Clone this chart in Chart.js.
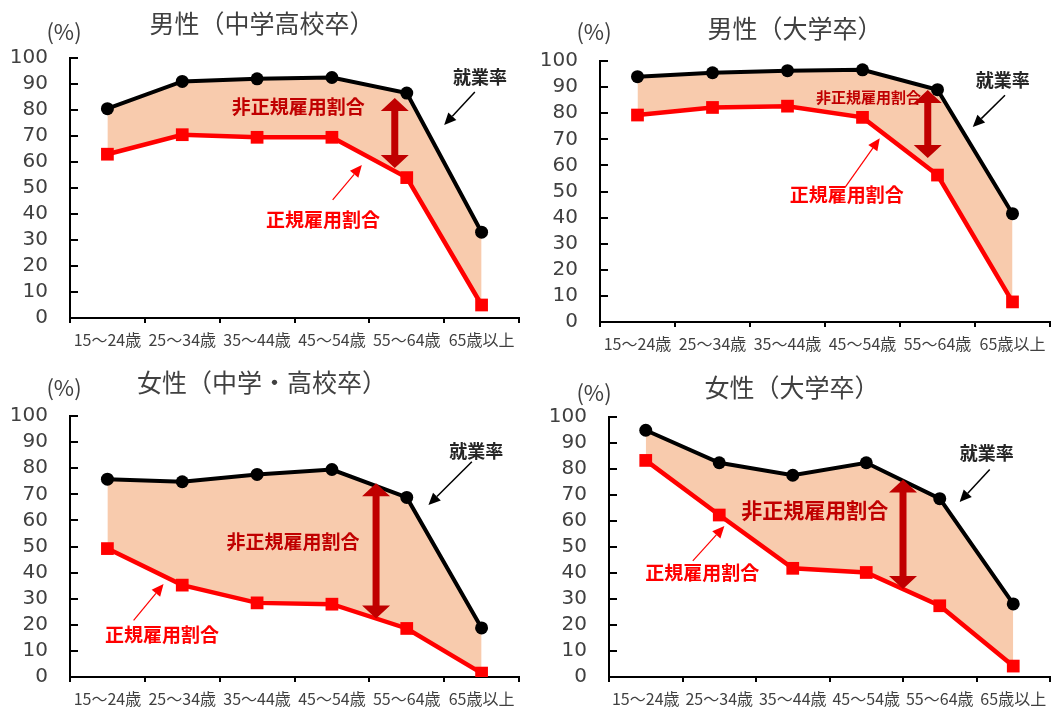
<!DOCTYPE html>
<html>
<head>
<meta charset="utf-8">
<script src="https://cdn.jsdelivr.net/npm/chart.js@4"></script>
<style>
  html, body { margin: 0; padding: 0; background: #fff; }
  #wrap { position: relative; width: 1059px; height: 711px; overflow: hidden; }
  .panel { position: absolute; }
</style>
</head>
<body>
<div id="wrap">
  <div class="panel" style="left:0px;top:0px"><canvas id="c1" width="530" height="356"></canvas></div>
  <div class="panel" style="left:530px;top:0px"><canvas id="c2" width="529" height="356"></canvas></div>
  <div class="panel" style="left:0px;top:356px"><canvas id="c3" width="530" height="355"></canvas></div>
  <div class="panel" style="left:530px;top:356px"><canvas id="c4" width="529" height="355"></canvas></div>
</div>
<script>
// ---- data ----
const categories = ['15～24歳', '25～34歳', '35～44歳', '45～54歳', '55～64歳', '65歳以上'];
const yTicks = [0, 10, 20, 30, 40, 50, 60, 70, 80, 90, 100];

const titles = ['男性（中学高校卒）', '男性（大学卒）', '女性（中学・高校卒）', '女性（大学卒）'];
const unitLabel = '(%)';
const lblEmployment = '就業率';
const lblNonRegular = '非正規雇用割合';
const lblRegular = '正規雇用割合';

const maleHsEmployment   = [80.5, 91.0, 92.0, 92.5, 86.5, 33.0];
const maleHsRegular      = [63.0, 70.5, 69.5, 69.5, 54.0, 5.0];
const maleUnivEmployment = [94.0, 95.5, 96.3, 96.6, 89.0, 41.5];
const maleUnivRegular    = [79.3, 82.2, 82.7, 78.4, 56.3, 7.7];
const femHsEmployment    = [75.8, 74.8, 77.6, 79.5, 68.8, 18.8];
const femHsRegular       = [49.2, 35.2, 28.4, 27.9, 18.6, 1.5];
const femUnivEmployment  = [94.9, 82.4, 77.6, 82.4, 68.6, 28.1];
const femUnivRegular     = [83.3, 62.3, 41.8, 40.2, 27.4, 4.2];

// ---- layout / annotation settings (annotation positions in data coordinates: category index, value) ----
const panels = [
  { id: 'c1', title: titles[0], emp: maleHsEmployment, reg: maleHsRegular,
    plotLeft: 70, padRight: 11, padTop: 58, xAxisH: 38, titleXY: [262, 23], pctXY: [64, 32],
    ann: { emp: [4.98, 92.7], empArrow: [4.91, 86.9, 4.50, 74.2],
           non: [2.55, 81.2], nonSize: 19, dbl: [3.84, 84.6, 57.7],
           reg: [2.88, 37.7], regArrow: [3.01, 45.4, 3.40, 58.8] } },
  { id: 'c2', title: titles[1], emp: maleUnivEmployment, reg: maleUnivRegular,
    plotLeft: 70, padRight: 9, padTop: 61, xAxisH: 34, titleXY: [265, 28], pctXY: [64, 32],
    ann: { emp: [4.87, 92.7], empArrow: [4.90, 86.9, 4.47, 74.7],
           non: [3.08, 86.2], nonSize: 15, dbl: [3.87, 88.9, 62.8],
           reg: [2.79, 48.6], regArrow: [2.77, 51.7, 3.23, 70.4] } },
  { id: 'c3', title: titles[2], emp: femHsEmployment, reg: femHsRegular,
    plotLeft: 70, padRight: 11, padTop: 60, xAxisH: 34, titleXY: [262, 26], pctXY: [64, 32],
    ann: { emp: [4.93, 86.4], empArrow: [4.87, 82.5, 4.29, 65.9],
           non: [2.48, 51.8], nonSize: 19, dbl: [3.59, 74.2, 22.4],
           reg: [0.73, 16.0], regArrow: [0.35, 21.7, 0.75, 35.6] } },
  { id: 'c4', title: titles[3], emp: femUnivEmployment, reg: femUnivRegular,
    plotLeft: 79, padRight: 7, padTop: 61, xAxisH: 33, titleXY: [262, 31], pctXY: [64, 37],
    ann: { emp: [4.64, 86.2], empArrow: [4.68, 79.8, 4.27, 67.3],
           non: [2.30, 64.2], nonSize: 21, dbl: [3.50, 76.0, 33.8],
           reg: [0.77, 40.2], regArrow: [0.64, 44.7, 1.07, 58.1] } }
];

const CJK = '"Noto Sans CJK JP", "Noto Sans", sans-serif';
const TEXT_GRAY = '#404040';
const FILL = '#F8CBAD';
const DARK_RED = '#C00000';
const RED = '#FF0000';

function arrow(ctx, x1, y1, x2, y2, color, lw, hl, hw) {
  const ang = Math.atan2(y2 - y1, x2 - x1);
  const bx = x2 - hl * Math.cos(ang), by = y2 - hl * Math.sin(ang);
  ctx.save();
  ctx.strokeStyle = color; ctx.fillStyle = color; ctx.lineWidth = lw;
  ctx.beginPath(); ctx.moveTo(x1, y1); ctx.lineTo(bx, by); ctx.stroke();
  ctx.beginPath();
  ctx.moveTo(x2, y2);
  ctx.lineTo(bx + hw / 2 * Math.sin(ang), by - hw / 2 * Math.cos(ang));
  ctx.lineTo(bx - hw / 2 * Math.sin(ang), by + hw / 2 * Math.cos(ang));
  ctx.closePath(); ctx.fill();
  ctx.restore();
}

function doubleArrow(ctx, x, yTop, yBot, color) {
  const hh = 13, hw = 28, sw = 7;
  ctx.save();
  ctx.fillStyle = color;
  ctx.beginPath();
  ctx.moveTo(x, yTop);
  ctx.lineTo(x + hw / 2, yTop + hh);
  ctx.lineTo(x + sw / 2, yTop + hh);
  ctx.lineTo(x + sw / 2, yBot - hh);
  ctx.lineTo(x + hw / 2, yBot - hh);
  ctx.lineTo(x, yBot);
  ctx.lineTo(x - hw / 2, yBot - hh);
  ctx.lineTo(x - sw / 2, yBot - hh);
  ctx.lineTo(x - sw / 2, yTop + hh);
  ctx.lineTo(x - hw / 2, yTop + hh);
  ctx.closePath();
  ctx.fill();
  ctx.restore();
}

const decoPlugin = {
  id: 'deco',
  afterDraw(chart) {
    const p = chart.options.plugins.deco;
    const ctx = chart.ctx;
    const xs = chart.scales.x, ys = chart.scales.y;
    const X = v => xs.getPixelForValue(v);
    const Y = v => ys.getPixelForValue(v);
    const a = p.ann;
    ctx.save();
    // inside tick marks on y axis
    ctx.strokeStyle = '#000'; ctx.lineWidth = 2;
    yTicks.forEach(v => {
      const y = Math.round(Y(v));
      ctx.beginPath();
      ctx.moveTo(chart.chartArea.left, y);
      ctx.lineTo(chart.chartArea.left + 8, y);
      ctx.stroke();
    });
    // title and unit
    ctx.textAlign = 'center'; ctx.textBaseline = 'middle';
    ctx.fillStyle = TEXT_GRAY;
    ctx.font = '25px ' + CJK;
    ctx.fillText(p.title, p.titleXY[0], p.titleXY[1]);
    ctx.font = '22px ' + CJK;
    ctx.fillText(unitLabel, p.pctXY[0], p.pctXY[1]);
    // annotations
    ctx.font = 'bold 18px ' + CJK;
    ctx.fillStyle = '#262626';
    ctx.fillText(lblEmployment, X(a.emp[0]), Y(a.emp[1]));
    arrow(ctx, X(a.empArrow[0]), Y(a.empArrow[1]), X(a.empArrow[2]), Y(a.empArrow[3]), '#000', 1.5, 12, 11);
    ctx.font = 'bold ' + a.nonSize + 'px ' + CJK;
    ctx.fillStyle = DARK_RED;
    ctx.fillText(lblNonRegular, X(a.non[0]), Y(a.non[1]));
    doubleArrow(ctx, X(a.dbl[0]), Y(a.dbl[1]), Y(a.dbl[2]), DARK_RED);
    ctx.font = 'bold 19px ' + CJK;
    ctx.fillStyle = RED;
    ctx.fillText(lblRegular, X(a.reg[0]), Y(a.reg[1]));
    arrow(ctx, X(a.regArrow[0]), Y(a.regArrow[1]), X(a.regArrow[2]), Y(a.regArrow[3]), RED, 1.2, 12, 11);
    ctx.restore();
  }
};

panels.forEach(p => {
  const canvas = document.getElementById(p.id);
  new Chart(canvas, {
    type: 'line',
    data: {
      labels: categories,
      datasets: [
        { label: lblEmployment, data: p.emp, borderColor: '#000', backgroundColor: FILL,
          borderWidth: 4, pointStyle: 'circle', pointRadius: 6.5, pointBackgroundColor: '#000',
          pointBorderColor: '#000', pointBorderWidth: 0, fill: '+1', tension: 0 },
        { label: lblRegular, data: p.reg, borderColor: RED, backgroundColor: RED,
          borderWidth: 4.5, pointStyle: 'rect', pointRadius: 9, pointBackgroundColor: RED,
          pointBorderColor: RED, pointBorderWidth: 0, fill: false, tension: 0 }
      ]
    },
    options: {
      responsive: false,
      animation: false,
      devicePixelRatio: 1,
      layout: { padding: { left: 0, right: p.padRight, top: p.padTop, bottom: 0 } },
      plugins: {
        legend: { display: false },
        title: { display: false },
        tooltip: { enabled: false },
        filler: { drawTime: 'beforeDatasetsDraw' },
        deco: p
      },
      scales: {
        x: {
          type: 'category',
          offset: true,
          grid: { display: true, offset: true, drawOnChartArea: false, drawTicks: true,
                  tickLength: 5, color: '#000', lineWidth: 2 },
          border: { display: true, color: '#000', width: 2 },
          ticks: { color: TEXT_GRAY, font: { family: CJK, size: 16 }, padding: 7,
                   maxRotation: 0, autoSkip: false },
          afterFit(scale) { scale.height = p.xAxisH; }
        },
        y: {
          min: 0, max: 100,
          afterBuildTicks(scale) { scale.ticks = yTicks.map(v => ({ value: v })); },
          grid: { display: true, drawOnChartArea: false, drawTicks: false },
          border: { display: true, color: '#000', width: 2 },
          ticks: { color: TEXT_GRAY, font: { family: '"DejaVu Sans", sans-serif', size: 20 },
                   padding: 22, autoSkip: false },
          afterFit(scale) { scale.width = p.plotLeft; }
        }
      }
    },
    plugins: [decoPlugin]
  });
});
</script>
</body>
</html>
